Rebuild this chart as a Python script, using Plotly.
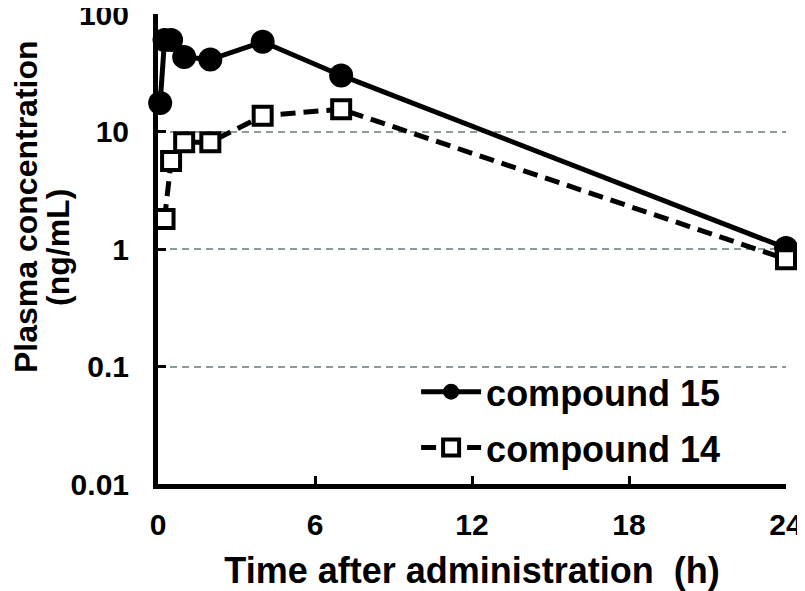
import plotly.graph_objects as go

# ---- data ----
time_c15 = [0.083, 0.25, 0.5, 1, 2, 4, 7, 24]
conc_c15 = [17.5, 60, 60, 43, 41, 58, 30, 1.02]
time_c14 = [0.25, 0.5, 1, 2, 4, 7, 24]
conc_c14 = [1.8, 5.6, 8.1, 8.1, 13.6, 15.5, 0.82]

x_ticks = [0, 6, 12, 18, 24]
y_ticks = [0.01, 0.1, 1, 10, 100]
y_ticktext = ["0.01", "0.1", "1", "10", "100"]

FONT = "Arial, 'Liberation Sans', sans-serif"

fig = go.Figure()
fig.add_trace(go.Scatter(
    x=time_c15, y=conc_c15, name="compound 15", mode="lines+markers",
    line=dict(color="black", width=5),
    marker=dict(symbol="circle", size=24, color="black"),
    cliponaxis=False, legendgroup="a",
))
fig.add_trace(go.Scatter(
    x=time_c14, y=conc_c14, name="compound 14", mode="lines+markers",
    line=dict(color="black", width=5, dash="15px,8px"),
    marker=dict(symbol="square", size=18, color="white",
                line=dict(color="black", width=4)),
    cliponaxis=False, legendgroup="b",
))

# page body adds an 8px offset, so the figure is 8px smaller than the window
fig.update_layout(
    width=797, height=583,
    margin=dict(l=150, r=19, t=6, b=107, autoexpand=False),
    paper_bgcolor="white", plot_bgcolor="white",
    font=dict(family=FONT, size=32, color="black", weight="bold"),
    showlegend=True,
    legend=dict(
        x=0.411, y=0.26, xanchor="left", yanchor="top",
        font=dict(family=FONT, size=36, color="black", weight="bold"),
        bgcolor="rgba(0,0,0,0)", itemwidth=60, tracegroupgap=6,
        traceorder="grouped",
    ),
    xaxis=dict(
        range=[0, 24], tickvals=x_ticks, automargin=False,
        showline=True, linecolor="black", linewidth=5,
        ticks="inside", ticklen=8, tickwidth=3, tickcolor="black",
        showgrid=False, zeroline=False,
        ticklabelstandoff=10, ticklabeloverflow="allow",
        tickfont=dict(family=FONT, size=30, weight="bold"),
        title=dict(text="Time after administration\u00a0\u00a0(h)",
                   font=dict(family=FONT, size=36, weight="bold"), standoff=20),
    ),
    yaxis=dict(
        type="log", range=[-2, 2], tickvals=y_ticks, ticktext=y_ticktext,
        automargin=False, ticklabeloverflow="allow",
        showline=True, linecolor="black", linewidth=5,
        ticks="inside", ticklen=8, tickwidth=3, tickcolor="black",
        showgrid=True, gridcolor="#8c9c9c", gridwidth=1.5, griddash="7px,5px",
        zeroline=False, ticklabelstandoff=18,
        tickfont=dict(family=FONT, size=30, weight="bold"),
    ),
    annotations=[
        dict(text="Plasma concentration", textangle=-90, showarrow=False,
             xref="paper", yref="paper", x=(26 - 158) / 628, y=(484 - 207) / 470,
             xanchor="center", yanchor="middle",
             font=dict(family=FONT, size=32, weight="bold")),
        dict(text="(ng/mL)", textangle=-90, showarrow=False,
             xref="paper", yref="paper", x=(58 - 158) / 628, y=(484 - 248) / 470,
             xanchor="center", yanchor="middle",
             font=dict(family=FONT, size=32, weight="bold")),
    ],
)

fig.write_html("out.html")
